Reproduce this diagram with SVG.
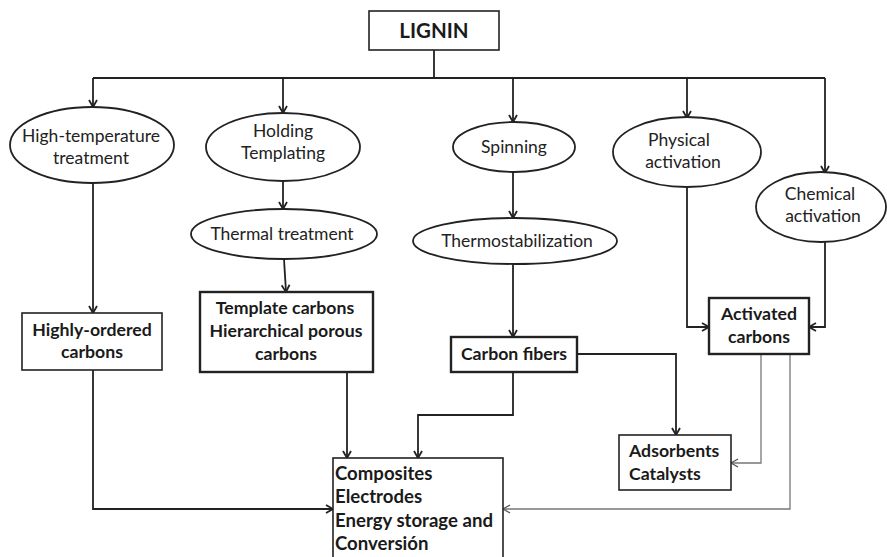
<svg xmlns="http://www.w3.org/2000/svg" width="887" height="557" viewBox="0 0 887 557">
  <style>
    .bg { fill: #ffffff; }
    .box { fill: #ffffff; stroke: #222; stroke-width: 1.6; }
    .box-thick { fill: #ffffff; stroke: #222; stroke-width: 2.4; }
    .oval { fill: #ffffff; stroke: #222; stroke-width: 1.8; }
    .txt { font-family: Lato, "Liberation Sans", sans-serif; font-size: 17.5px; fill: #222; }
    .bold { font-family: Lato, "Liberation Sans", sans-serif; font-size: 17.7px; font-weight: bold; fill: #1a1a1a; }
    .big { font-size: 18.6px; }
    .title { font-family: Lato, "Liberation Sans", sans-serif; font-size: 20.5px; font-weight: bold; fill: #1a1a1a; }
    .mid { text-anchor: middle; }
    .link { fill: none; stroke: #222; stroke-width: 1.8; }
    .link-thin { fill: none; stroke: #777; stroke-width: 1.3; }
  </style>
  <defs>
    <marker id="arr" markerWidth="10" markerHeight="10" refX="8" refY="5" orient="auto" markerUnits="userSpaceOnUse">
      <path d="M1,1 L8,5 L1,9" fill="none" stroke="#222" stroke-width="1.8"/>
    </marker>
    <marker id="arr-thin" markerWidth="10" markerHeight="10" refX="8" refY="5" orient="auto" markerUnits="userSpaceOnUse">
      <path d="M1,1 L8,5 L1,9" fill="none" stroke="#555" stroke-width="1.3"/>
    </marker>
  </defs>
  <rect class="bg" x="0" y="0" width="887" height="557"/>

  <g id="connectors">
    <!-- trunk from LIGNIN and distribution bar -->
    <path class="link" d="M434,50 V78"/>
    <path class="link" d="M93,78 H825"/>
    <path class="link" d="M93,78 V107" marker-end="url(#arr)"/>
    <path class="link" d="M283,78 V113" marker-end="url(#arr)"/>
    <path class="link" d="M513,78 V122" marker-end="url(#arr)"/>
    <path class="link" d="M687,78 V118" marker-end="url(#arr)"/>
    <path class="link" d="M825,78 V173" marker-end="url(#arr)"/>
    <!-- process chains -->
    <path class="link" d="M93,183 V313" marker-end="url(#arr)"/>
    <path class="link" d="M283,182 V209" marker-end="url(#arr)"/>
    <path class="link" d="M284,259 L286,292" marker-end="url(#arr)"/>
    <path class="link" d="M513,172 V218" marker-end="url(#arr)"/>
    <path class="link" d="M513,264 V337" marker-end="url(#arr)"/>
    <path class="link" d="M687,187 V327 H709" marker-end="url(#arr)"/>
    <path class="link" d="M825,242 V327 H809" marker-end="url(#arr)"/>
    <!-- products to applications -->
    <path class="link" d="M93,370 V509 H333" marker-end="url(#arr)"/>
    <path class="link" d="M347,372 V458" marker-end="url(#arr)"/>
    <path class="link" d="M513,372 V415 H418 V458" marker-end="url(#arr)"/>
    <path class="link" d="M577,354 H676 V435" marker-end="url(#arr)"/>
    <path class="link-thin" d="M761,354 V463 H731" marker-end="url(#arr-thin)"/>
    <path class="link-thin" d="M790,354 V509 H503" marker-end="url(#arr-thin)"/>
  </g>

  <g id="lignin">
    <rect class="box" x="369" y="11" width="130" height="39"/>
    <text class="title mid" x="434" y="38">LIGNIN</text>
  </g>

  <g id="high-temperature">
    <ellipse class="oval" cx="92" cy="145" rx="82" ry="38"/>
    <text class="txt mid" x="91" y="142">High-temperature</text>
    <text class="txt mid" x="91" y="164">treatment</text>
  </g>
  <g id="holding-templating">
    <ellipse class="oval" cx="283" cy="147" rx="77" ry="34"/>
    <text class="txt mid" x="283" y="137">Holding</text>
    <text class="txt mid" x="283" y="159">Templating</text>
  </g>
  <g id="spinning">
    <ellipse class="oval" cx="514" cy="147" rx="61" ry="25"/>
    <text class="txt mid" x="514" y="153">Spinning</text>
  </g>
  <g id="physical-activation">
    <ellipse class="oval" cx="687" cy="152" rx="74" ry="35"/>
    <text class="txt mid" x="679" y="146">Physical</text>
    <text class="txt mid" x="683" y="168">activation</text>
  </g>
  <g id="chemical-activation">
    <ellipse class="oval" cx="821" cy="207" rx="65" ry="35"/>
    <text class="txt mid" x="820" y="200">Chemical</text>
    <text class="txt mid" x="823" y="222">activation</text>
  </g>
  <g id="thermal-treatment">
    <ellipse class="oval" cx="284" cy="234" rx="93" ry="25"/>
    <text class="txt mid" x="282" y="240">Thermal treatment</text>
  </g>
  <g id="thermostabilization">
    <ellipse class="oval" cx="515" cy="241" rx="102" ry="23"/>
    <text class="txt mid" x="517" y="247">Thermostabilization</text>
  </g>

  <g id="highly-ordered">
    <rect class="box" x="22" y="313" width="140" height="57"/>
    <text class="bold mid" x="92" y="336">Highly-ordered</text>
    <text class="bold mid" x="92" y="358">carbons</text>
  </g>
  <g id="template-carbons">
    <rect class="box-thick" x="200" y="292" width="173" height="80"/>
    <text class="bold mid" x="285" y="314">Template carbons</text>
    <text class="bold mid" x="286" y="337">Hierarchical porous</text>
    <text class="bold mid" x="286" y="360">carbons</text>
  </g>
  <g id="carbon-fibers">
    <rect class="box-thick" x="451" y="337" width="126" height="35"/>
    <text class="bold mid" x="514" y="360">Carbon fibers</text>
  </g>
  <g id="activated-carbons">
    <rect class="box-thick" x="709" y="298" width="100" height="56"/>
    <text class="bold mid" x="759" y="320">Activated</text>
    <text class="bold mid" x="759" y="343">carbons</text>
  </g>
  <g id="adsorbents">
    <rect class="box" x="619" y="435" width="112" height="55"/>
    <text class="bold" x="629" y="457">Adsorbents</text>
    <text class="bold" x="629" y="480">Catalysts</text>
  </g>
  <g id="applications">
    <rect class="box" x="333" y="458" width="170" height="104"/>
    <text class="bold big" x="335" y="480">Composites</text>
    <text class="bold big" x="335" y="503">Electrodes</text>
    <text class="bold big" x="335" y="527">Energy storage and</text>
    <text class="bold big" x="335" y="550">Conversión</text>
  </g>
</svg>
